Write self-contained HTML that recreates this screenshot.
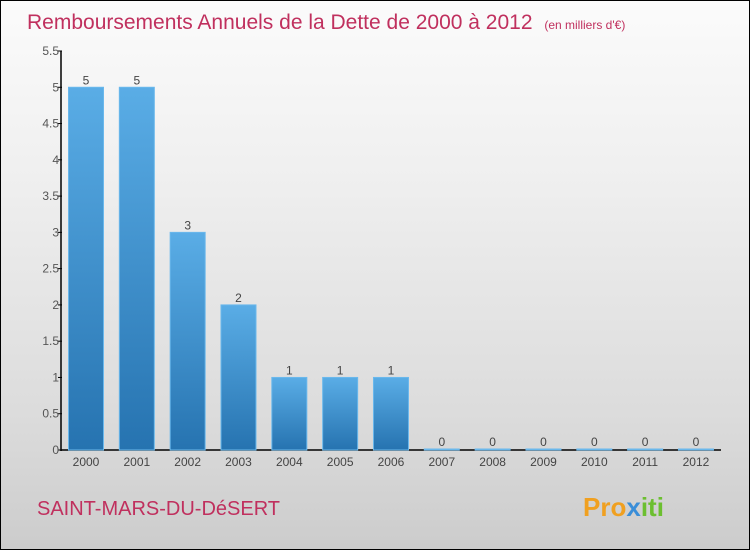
<!DOCTYPE html>
<html><head><meta charset="utf-8"><style>
body{margin:0;}
#wrap{position:relative;width:748px;height:548px;border:1px solid #000;background:linear-gradient(#fbfbfb,#f0f0f0 30%,#dcdcdc 75%,#cccccc);font-family:"Liberation Sans",sans-serif;overflow:hidden}
</style></head><body>
<div id="wrap">
<svg id="chart" width="748" height="548" style="position:absolute;left:0;top:0">
<defs><linearGradient id="bg" x1="0" y1="0" x2="0" y2="1"><stop offset="0" stop-color="#5aade6"/><stop offset="1" stop-color="#2673b0"/></linearGradient></defs>
<text x="26" y="28" font-size="21" fill="#c0305e">Remboursements Annuels de la Dette de 2000 à 2012 <tspan font-size="12" dx="6">(en milliers d'€)</tspan></text>
<g id="axes"></g><g id="bars"></g>
<text x="36" y="514" font-size="20" fill="#c0305e">SAINT-MARS-DU-DéSERT</text>
<text x="582" y="515" font-size="26" font-weight="bold" fill="#f0a020">Pro<tspan fill="#3a8ed8">x</tspan><tspan fill="#6cbf30">iti</tspan></text>
</svg>
</div>
<script>
const categories=["2000","2001","2002","2003","2004","2005","2006","2007","2008","2009","2010","2011","2012"];
const values=[5,5,3,2,1,1,1,0,0,0,0,0,0];
const yTicks=[0,0.5,1,1.5,2,2.5,3,3.5,4,4.5,5,5.5];
const ns="http://www.w3.org/2000/svg";
const y0=449,yTop=50,yMax=5.5,x0=85,step=50.83,bw=35;
const Y=v=>y0-(y0-yTop)*v/yMax, X=i=>x0+i*step;
function mk(t,a,p){const e=document.createElementNS(ns,t);for(const k in a)e.setAttribute(k,a[k]);p.appendChild(e);return e;}
const ax=document.getElementById('axes'),bg=document.getElementById('bars');
const yl=mk('line',{x1:60,y1:yTop,x2:60,y2:y0+1,stroke:'#000','stroke-width':1.5},ax);


const xl=mk('line',{x1:60,y1:y0,x2:720,y2:y0,stroke:'#000','stroke-width':1.5},ax);


yTicks.forEach(v=>{
 mk('line',{x1:57,x2:61,y1:Y(v),y2:Y(v),stroke:'#000'},ax);
 const t=mk('text',{x:58,y:Y(v)+4,'text-anchor':'end','font-size':12,fill:'#555'},ax);
 t.textContent=String(v);
 
 
});
categories.forEach((c,i)=>{
 const t=mk('text',{x:X(i),y:y0+16,'text-anchor':'middle','font-size':12,fill:'#444'},ax);
 t.textContent=c;
 
 
 const v=values[i],h=Math.max(y0-Y(v),1);
 const r=mk('rect',{x:X(i)-bw/2,y:y0-h,width:bw,height:h,fill:'url(#bg)',stroke:'#6ab8ec','stroke-width':1},bg);
 
 
 const l=mk('text',{x:X(i),y:y0-h-3,'text-anchor':'middle','font-size':12,fill:'#444'},bg);
 l.textContent=String(v);
 
 
});
</script>
</body></html>
